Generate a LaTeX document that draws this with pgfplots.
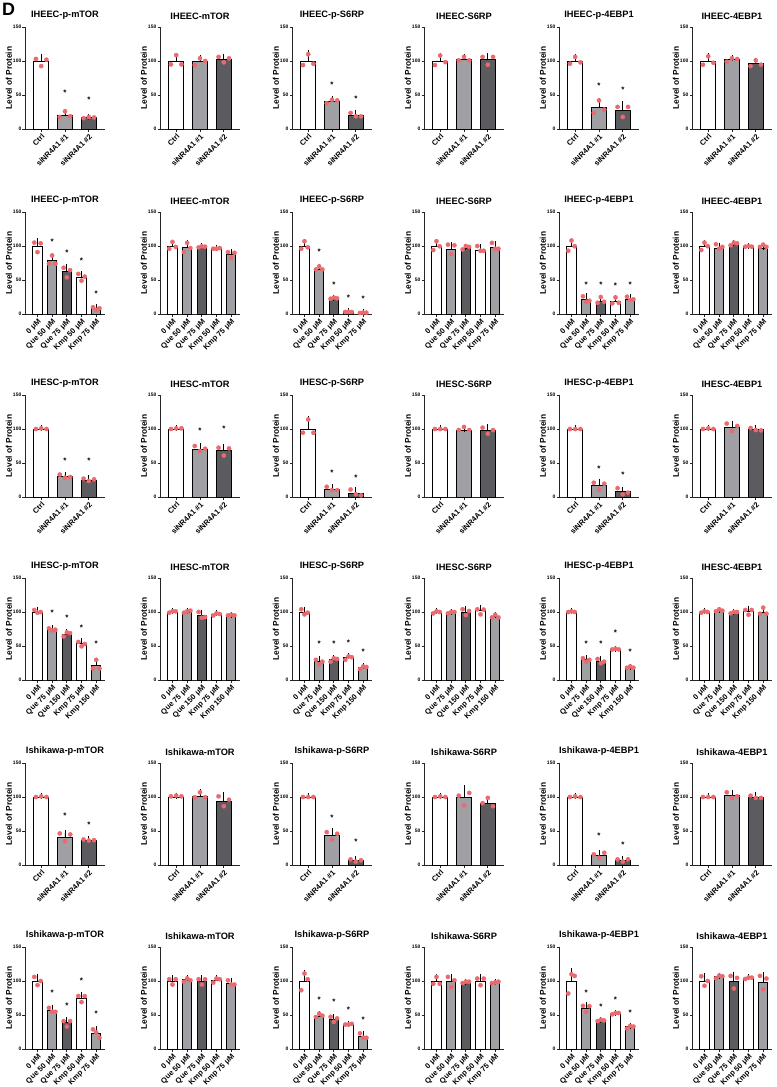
\documentclass[border=0pt]{standalone}
\usepackage{fontspec}
\setmainfont{Liberation Sans}
\usepackage{pgfplots}
\pgfplotsset{compat=1.18}
\definecolor{barL}{RGB}{160,160,164}
\definecolor{barD}{RGB}{92,92,96}
\definecolor{dotred}{RGB}{234,106,110}
\pgfplotsset{
 base/.style={scale only axis, width=80bp, height=102bp, anchor=south west,
  ymin=0, ymax=150, ytick={0,50,100,150},
  axis x line*=bottom, axis y line*=left,
  axis line style={line width=0.8bp, black!85},
  tick style={line width=0.8bp, black!85},
  tick align=outside, major tick length=2.5bp,
  yticklabel style={font=\bfseries\fontsize{5}{6}\selectfont, /pgf/number format/assume math mode=true, inner sep=1bp},
  ylabel={Level of Protein}, ylabel shift=-3.5bp,
  ylabel style={font=\bfseries\fontsize{8.4}{9}\selectfont},
  title style={font=\bfseries\fontsize{9.3}{10}\selectfont, yshift=-2bp},
  x tick label style={rotate=45, anchor=north east, font=\bfseries\fontsize{7.6}{8}\selectfont, inner sep=1bp},
  clip=false},
 three/.style={xmin=-0.68, xmax=2.68, xtick={0,1,2}, xticklabels={Ctrl, siNR4A1 \#1, siNR4A1 \#2}},
 fiveA/.style={xmin=-0.85, xmax=4.6, xtick={0,1,2,3,4}, xticklabels={0 μM, Que 50 μM, Que 75 μM, Kmp 50 μM, Kmp 75 μM}},
 fiveB/.style={xmin=-0.85, xmax=4.6, xtick={0,1,2,3,4}, xticklabels={0 μM, Que 75 μM, Que 150 μM, Kmp 75 μM, Kmp 150 μM}},
}
% bar: x, mean, err, fill, dot1, dot2, dot3
\newcommand{\Bar}[7]{%
\addplot[ybar, bar width=0.64, bar shift=0pt, fill=#4, draw=black, line width=1bp,
  error bars/.cd, y dir=plus, y explicit, error bar style={line width=0.9bp, black},
  error mark options={mark size=3bp, line width=0.9bp, black}]
  coordinates {(#1,#2) +- (0,#3)};
\addplot[only marks, color=dotred, mark=*, mark size=2.1bp, mark options={draw=none, fill=dotred}]
  table[row sep=\\, x expr=#1+\thisrow{o}, y=v] {o v\\ -0.22 #5\\ 0 #6\\ 0.22 #7\\};
}
\newcommand{\Star}[2]{\addplot[only marks, mark=text, text mark={\bfseries\fontsize{8}{8}\selectfont *}] coordinates {(#1,#2)};}
\newcommand{\Panel}[5]{%
\begin{axis}[base, #3, at={(#1bp,-#2bp)}, title={#4}]
#5
\end{axis}}
\begin{document}
\begin{tikzpicture}
\useasboundingbox (0,0) rectangle (777bp,-1087bp);
\node[anchor=north west, inner sep=0pt] at (2bp,-3bp) {\fontsize{18}{18}\selectfont\bfseries D};
% ---------------- Row 1 ----------------
\Panel{25}{129}{three}{IHEEC-p-mTOR}{
\Bar{0}{100}{6.5}{white}{103}{92.5}{102}
\Bar{1}{20.5}{5}{barL}{17.7}{26}{18.7}
\Bar{2}{16.5}{1.5}{barD}{16}{17.7}{17}
\Star{1}{53}\Star{2}{43}}
\Panel{160}{129}{three}{IHEEC-mTOR}{
\Bar{0}{100}{6}{white}{95}{108.7}{95}
\Bar{1}{99.5}{5}{barL}{94}{104}{100}
\Bar{2}{102.5}{3.5}{barD}{106}{98}{104}}
\Panel{292}{129}{three}{IHEEC-p-S6RP}{
\Bar{0}{100}{12}{white}{94}{110}{96}
\Bar{1}{41}{3}{barL}{38}{43}{42}
\Bar{2}{20.3}{3.5}{barD}{23.6}{18.7}{18.7}
\Star{1}{64.5}\Star{2}{45}}
\Panel{424}{129}{three}{IHEEC-S6RP}{
\Bar{0}{100}{8}{white}{94}{108}{98.4}
\Bar{1}{102.7}{2.5}{barL}{101}{106}{101}
\Bar{2}{102}{5.5}{barD}{106}{94.5}{106}}
\Panel{559}{129}{three}{IHEEC-p-4EBP1}{
\Bar{0}{100}{6.5}{white}{96}{106}{98}
\Bar{1}{31.4}{10}{barL}{23.6}{42}{28.5}
\Bar{2}{27.6}{8.7}{barD}{32.5}{17.7}{32.5}
\Star{1}{64}\Star{2}{57}}
\Panel{692}{129}{three}{IHEEC-4EBP1}{
\Bar{0}{100}{7}{white}{94.5}{107}{97.4}
\Bar{1}{102}{2.6}{barL}{99}{104}{103}
\Bar{2}{96}{4.5}{barD}{92.5}{101}{94.5}}
% ---------------- Row 2 ----------------
\Panel{25}{314}{fiveA}{IHEEC-p-mTOR}{
\Bar{0}{100}{7.5}{white}{105}{91}{104}
\Bar{1}{78}{7}{barL}{74}{86}{74}
\Bar{2}{62.5}{7}{barD}{68}{54}{64.5}
\Bar{3}{54}{5}{white}{59}{49}{55}
\Bar{4}{8}{2.5}{barL}{10}{6}{8.3}
\Star{1}{106}\Star{2}{90}\Star{3}{79}\Star{4}{30}}
\Panel{160}{314}{fiveA}{IHEEC-mTOR}{
\Bar{0}{100}{5}{white}{96}{106}{98.7}
\Bar{1}{97.5}{6.5}{barL}{91}{104.6}{97}
\Bar{2}{99}{1}{barD}{98}{99.5}{99}
\Bar{3}{96}{1}{white}{96}{96}{97}
\Bar{4}{88}{3.5}{barL}{91}{83}{90}}
\Panel{292}{314}{fiveA}{IHEEC-p-S6RP}{
\Bar{0}{100}{5.5}{white}{96}{107}{98}
\Bar{1}{65}{4}{barL}{65.5}{70}{65.5}
\Bar{2}{21.5}{2.5}{barD}{22.5}{24}{23}
\Bar{3}{3}{1}{white}{3}{3}{3}
\Bar{4}{1.8}{0.8}{barL}{1.5}{2}{2}
\Star{1}{91}\Star{2}{42.5}\Star{3}{24}\Star{4}{23}}
\Panel{424}{314}{fiveA}{IHEEC-S6RP}{
\Bar{0}{100}{6}{white}{94}{107}{99.6}
\Bar{1}{95}{6.5}{barL}{102}{88}{101}
\Bar{2}{96}{2.5}{barD}{95}{100}{98.7}
\Bar{3}{94}{4}{white}{100}{93}{93}
\Bar{4}{98}{4.5}{barL}{104.6}{96}{96}}
\Panel{559}{314}{fiveA}{IHEEC-p-4EBP1}{
\Bar{0}{100}{7}{white}{93}{108}{99.7}
\Bar{1}{21.5}{4.5}{barL}{26}{18}{19.5}
\Bar{2}{19}{4.5}{barD}{16.6}{25}{18}
\Bar{3}{18}{5}{white}{15.6}{24.4}{16.6}
\Bar{4}{21.5}{3}{barL}{25.4}{20.5}{21.5}
\Star{1}{42.5}\Star{2}{43.5}\Star{3}{41}\Star{4}{42.5}}
\Panel{692}{314}{fiveA}{IHEEC-4EBP1}{
\Bar{0}{100}{5}{white}{94}{105}{99.7}
\Bar{1}{97}{3.5}{barL}{102.6}{96}{98.7}
\Bar{2}{102.5}{2.5}{barD}{101}{105}{104}
\Bar{3}{99}{1}{white}{99}{100}{99}
\Bar{4}{97}{2}{barL}{98.7}{102}{98.7}}
% ---------------- Row 3 ----------------
\Panel{25}{497}{three}{IHESC-p-mTOR}{
\Bar{0}{100}{1}{white}{100}{101}{100}
\Bar{1}{30}{3}{barL}{33}{28.4}{29.4}
\Bar{2}{25}{3}{barD}{27}{23.5}{26}
\Star{1}{54}\Star{2}{54}}
\Panel{160}{497}{three}{IHESC-mTOR}{
\Bar{0}{100}{1}{white}{100}{101}{101}
\Bar{1}{70}{5}{barL}{75}{67.6}{71}
\Bar{2}{68}{6}{barD}{72.5}{61}{71.5}
\Star{1}{98}\Star{2}{100}}
\Panel{292}{497}{three}{IHESC-p-S6RP}{
\Bar{0}{100}{14}{white}{94.6}{114}{94.6}
\Bar{1}{11}{3.5}{barL}{15}{10}{10}
\Bar{2}{5.4}{5.5}{barD}{11}{4}{2.5}
\Star{1}{35}\Star{2}{28}}
\Panel{424}{497}{three}{IHESC-S6RP}{
\Bar{0}{100}{1}{white}{100}{100}{100}
\Bar{1}{98}{2.5}{barL}{98.5}{103}{98.5}
\Bar{2}{98}{5.5}{barD}{102}{93}{98.5}}
\Panel{559}{497}{three}{IHESC-p-4EBP1}{
\Bar{0}{100}{0.8}{white}{100}{100}{100}
\Bar{1}{17}{5.5}{barL}{21}{11}{19.6}
\Bar{2}{7.4}{3.6}{barD}{13}{4}{6.4}
\Star{1}{42}\Star{2}{32}}
\Panel{692}{497}{three}{IHESC-4EBP1}{
\Bar{0}{100}{1}{white}{100}{101}{100}
\Bar{1}{102}{6}{barL}{108}{97}{104.5}
\Bar{2}{99}{2}{barD}{101.5}{98.5}{98}}
% ---------------- Row 4 ----------------
\Panel{25}{680}{fiveB}{IHESC-p-mTOR}{
\Bar{0}{100}{3.5}{white}{103}{99}{100}
\Bar{1}{74}{2}{barL}{76}{73}{74}
\Bar{2}{67.5}{3}{barD}{64}{70}{69}
\Bar{3}{53}{4}{white}{56}{49.5}{53}
\Bar{4}{21}{7}{barL}{17}{29.7}{17}
\Star{1}{99}\Star{2}{91.5}\Star{3}{77}\Star{4}{53}}
\Panel{160}{680}{fiveB}{IHESC-mTOR}{
\Bar{0}{100}{1}{white}{99}{101}{101}
\Bar{1}{100}{1.5}{barL}{99}{101}{102}
\Bar{2}{94.5}{4.5}{barD}{100}{91.6}{92.6}
\Bar{3}{96.5}{1.5}{white}{95}{98}{97}
\Bar{4}{95}{0.8}{barL}{95}{96}{95}}
\Panel{292}{680}{fiveB}{IHESC-p-S6RP}{
\Bar{0}{100}{3.5}{white}{104}{96.5}{99}
\Bar{1}{27}{4}{barL}{29.7}{23}{27}
\Bar{2}{30}{2.5}{barD}{27}{32}{31}
\Bar{3}{32.5}{2.5}{white}{29.7}{34.7}{33.6}
\Bar{4}{18}{2}{barL}{16}{20}{19}
\Star{1}{54}\Star{2}{53}\Star{3}{54.5}\Star{4}{42}}
\Panel{424}{680}{fiveB}{IHESC-S6RP}{
\Bar{0}{100}{1.5}{white}{98}{101}{100}
\Bar{1}{99.5}{1}{barL}{98}{100}{100}
\Bar{2}{100}{4}{barD}{104}{95.5}{101.5}
\Bar{3}{101.5}{4}{white}{104}{96.5}{103.5}
\Bar{4}{93}{2.5}{barL}{92}{96}{92}}
\Panel{559}{680}{fiveB}{IHESC-p-4EBP1}{
\Bar{0}{100}{0.8}{white}{100}{101}{100}
\Bar{1}{29.5}{2.5}{barL}{32}{27}{29.7}
\Bar{2}{27.5}{3}{barD}{31}{24.7}{27}
\Bar{3}{45.5}{0.8}{white}{45}{46}{45}
\Bar{4}{18.5}{1.2}{barL}{18}{20}{18}
\Star{1}{54}\Star{2}{54}\Star{3}{69}\Star{4}{42}}
\Panel{692}{680}{fiveB}{IHESC-4EBP1}{
\Bar{0}{100}{1}{white}{99}{101}{100}
\Bar{1}{102}{1.5}{barL}{101}{104}{102}
\Bar{2}{99}{1}{barD}{98}{100}{100}
\Bar{3}{101}{4}{white}{103}{96}{103}
\Bar{4}{100}{5}{barL}{97.5}{106.4}{97.5}}
% ---------------- Row 5 ----------------
\Panel{25}{865}{three}{Ishikawa-p-mTOR}{
\Bar{0}{100}{1}{white}{100}{101}{100}
\Bar{1}{41}{6}{barL}{46.4}{35}{45}
\Bar{2}{35.5}{3}{barD}{37.6}{36}{36.6}
\Star{1}{73}\Star{2}{59.6}}
\Panel{160}{865}{three}{Ishikawa-mTOR}{
\Bar{0}{100}{2}{white}{101}{102}{101}
\Bar{1}{101}{6}{barL}{99.7}{107}{99.7}
\Bar{2}{94}{8.5}{barD}{101}{86.5}{96}}
\Panel{292}{865}{three}{Ishikawa-p-S6RP}{
\Bar{0}{100}{1}{white}{100}{100}{100}
\Bar{1}{43.5}{6.5}{barL}{48.4}{37.6}{46}
\Bar{2}{6.5}{2.5}{barD}{8.3}{5}{7}
\Star{1}{69}\Star{2}{34}}
\Panel{424}{865}{three}{Ishikawa-S6RP}{
\Bar{0}{100}{1}{white}{100}{101}{100}
\Bar{1}{100}{13}{barL}{102}{87.5}{106}
\Bar{2}{91}{5}{barD}{91}{98.7}{86.5}}
\Panel{559}{865}{three}{Ishikawa-p-4EBP1}{
\Bar{0}{100}{1}{white}{100}{101}{100}
\Bar{1}{13.5}{4.5}{barL}{15.6}{10.7}{18}
\Bar{2}{6.5}{2}{barD}{8.3}{5}{8.3}
\Star{1}{42.5}\Star{2}{30}}
\Panel{692}{865}{three}{Ishikawa-4EBP1}{
\Bar{0}{100}{0.8}{white}{100}{100}{100}
\Bar{1}{102.5}{3}{barL}{107}{98.7}{101}
\Bar{2}{99.5}{4}{barD}{102}{98.7}{98.7}}
% ---------------- Row 6 ----------------
\Panel{25}{1049}{fiveA}{Ishikawa-p-mTOR}{
\Bar{0}{100}{6}{white}{106}{94}{100}
\Bar{1}{56.5}{3.5}{barL}{60.6}{54.7}{54.7}
\Bar{2}{38.5}{4}{barD}{41}{33}{41}
\Bar{3}{75}{4}{white}{78}{69}{77.7}
\Bar{4}{23}{6}{barL}{29}{24.4}{16.6}
\Star{1}{83}\Star{2}{63}\Star{3}{100}\Star{4}{52}}
\Panel{160}{1049}{fiveA}{Ishikawa-mTOR}{
\Bar{0}{100}{4}{white}{102.6}{94.8}{102.6}
\Bar{1}{101.5}{2.5}{barL}{99}{104}{101}
\Bar{2}{100}{4.5}{barD}{102.6}{94.8}{102.6}
\Bar{3}{101}{3}{white}{97.7}{103.6}{102.6}
\Bar{4}{96.5}{4}{barL}{101}{94.8}{94.8}}
\Panel{292}{1049}{fiveA}{Ishikawa-p-S6RP}{
\Bar{0}{100}{12}{white}{86.5}{111}{102.6}
\Bar{1}{48}{3}{barL}{47}{52}{49}
\Bar{2}{43}{4}{barD}{47.4}{40}{45}
\Bar{3}{36}{1}{white}{36}{36}{37}
\Bar{4}{19}{3.5}{barL}{23}{16.6}{16.6}
\Star{1}{72}\Star{2}{69}\Star{3}{58}\Star{4}{42.5}}
\Panel{424}{1049}{fiveA}{Ishikawa-S6RP}{
\Bar{0}{100}{6}{white}{95.8}{106}{95.8}
\Bar{1}{99}{7}{barL}{106}{91}{101}
\Bar{2}{98}{1}{barD}{97}{99}{99}
\Bar{3}{100}{5.5}{white}{103.6}{93.8}{103.6}
\Bar{4}{98}{1}{barL}{97}{98}{99}}
\Panel{559}{1049}{fiveA}{Ishikawa-p-4EBP1}{
\Bar{0}{100}{15}{white}{81.6}{110}{107.5}
\Bar{1}{60}{4.5}{barL}{63.5}{54.7}{63}
\Bar{2}{42}{1}{barD}{41}{43}{42}
\Bar{3}{52.5}{1}{white}{51}{53}{53}
\Bar{4}{32.5}{2}{barL}{30}{34}{33}
\Star{1}{83}\Star{2}{62.5}\Star{3}{72}\Star{4}{53.7}}
\Panel{692}{1049}{fiveA}{Ishikawa-4EBP1}{
\Bar{0}{100}{7}{white}{107}{93}{100}
\Bar{1}{106}{2}{barL}{104}{108}{107}
\Bar{2}{100}{9.5}{barD}{107.5}{89}{104.6}
\Bar{3}{104}{1.5}{white}{103}{105}{105}
\Bar{4}{98.5}{10}{barL}{107.5}{88}{103.6}}
\end{tikzpicture}
\end{document}
